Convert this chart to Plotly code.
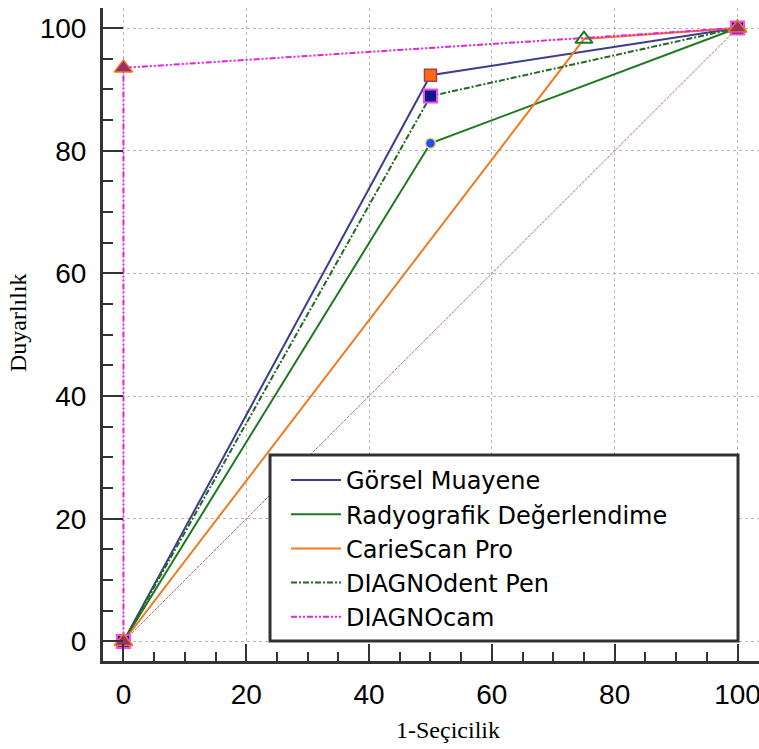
import plotly.graph_objects as go

# ROC data (1-Seçicilik, Duyarlılık)
names = ["Görsel Muayene", "Radyografik Değerlendime", "CarieScan Pro", "DIAGNOdent Pen", "DIAGNOcam"]
fpr_gorsel = [0, 50, 100]
tpr_gorsel = [0, 92.3, 100]
fpr_rad = [0, 50, 100]
tpr_rad = [0, 81.2, 100]
fpr_caries = [0, 75, 100]
tpr_caries = [0, 98.2, 100]
fpr_dpen = [0, 50, 100]
tpr_dpen = [0, 88.9, 100]
fpr_dcam = [0, 0, 100]
tpr_dcam = [0, 93.5, 100]
diag_x = [0, 100]
diag_y = [0, 100]
tick_vals = [0, 20, 40, 60, 80, 100]
x_title = "1-Seçicilik"
y_title = "Duyarlılık"

series = [
    (fpr_gorsel, tpr_gorsel, dict(color="#3d3d8f", width=2, dash="solid"),
     dict(symbol="square", size=12, color="#ff6a10", line=dict(color="#a0405a", width=1.5))),
    (fpr_rad, tpr_rad, dict(color="#1f7a1f", width=2, dash="solid"),
     dict(symbol="circle", size=10, color="#1f4fff", line=dict(color="#f2d46a", width=1.5))),
    (fpr_caries, tpr_caries, dict(color="#f07a22", width=2, dash="solid"),
     dict(symbol="triangle-up-open", size=15, color="#1f7a1f", line=dict(color="#1f7a1f", width=2))),
    (fpr_dpen, tpr_dpen, dict(color="#1f6b1f", width=2, dash="6px,2px,2px,2px"),
     dict(symbol="square", size=13, color="#0a1a80", line=dict(color="#ff44ff", width=2))),
    (fpr_dcam, tpr_dcam, dict(color="#e61ee6", width=2, dash="6px,2px,2px,2px,2px,2px"),
     dict(symbol="triangle-up", size=16, color="#9a2f6a", line=dict(color="#f07a22", width=1.5))),
]

fig = go.Figure()
fig.add_trace(go.Scatter(x=diag_x, y=diag_y, mode="lines",
                         line=dict(color="#b07070", width=1, dash="3px,1px"), showlegend=False, hoverinfo="skip"))
for name, (xs, ys, ln, mk) in zip(names, series):
    fig.add_trace(go.Scatter(x=xs, y=ys, mode="lines", name=name, line=ln))
for name, (xs, ys, ln, mk) in zip(names, series):
    fig.add_trace(go.Scatter(x=xs, y=ys, mode="markers", name=name, marker=mk, showlegend=False))

axis_common = dict(
    tickvals=tick_vals, ticks="inside", tickwidth=2, tickcolor="#333333",
    showline=True, linewidth=3, linecolor="#333333",
    showgrid=True, gridcolor="#b8b8b8", griddash="dot", gridwidth=1,
    zeroline=False, automargin=False, ticklabeloverflow="allow",
    tickfont=dict(family="Liberation Sans, Arial", size=28, color="#000000"),
    minor=dict(ticks="inside", dtick=5, tick0=0, tickwidth=2, tickcolor="#333333", showgrid=False),
)

title_font = dict(family="Liberation Serif, Times New Roman", size=24, color="#000000")

fig.update_layout(
    width=759, height=749,
    margin=dict(l=103, r=0, t=8, b=88),
    paper_bgcolor="white", plot_bgcolor="white",
    xaxis=dict(axis_common, range=[-3.33, 103.5], ticklen=17, ticklabelstandoff=6,
               minor=dict(axis_common["minor"], ticklen=9)),
    yaxis=dict(axis_common, range=[-3.18, 103.26], ticklen=20, ticklabelstandoff=8,
               minor=dict(axis_common["minor"], ticklen=10)),
    legend=dict(x=0.279, y=0.311, xanchor="left", yanchor="top",
                bgcolor="rgba(0,0,0,0)", borderwidth=0, itemwidth=50,
                font=dict(family="DejaVu Sans", size=24, color="#000000")),
    shapes=[dict(type="rect", xref="paper", yref="paper", x0=0.2546, x1=0.968, y0=0.0306, y1=0.3155,
                 line=dict(color="#333333", width=3), fillcolor="white", layer="above")],
    annotations=[
        dict(text=x_title, xref="paper", yref="paper", x=0.526, y=-0.1057,
             xanchor="center", yanchor="middle", showarrow=False, font=title_font),
        dict(text=y_title, xref="paper", yref="paper", x=-0.1296, y=0.519, textangle=-90,
             xanchor="center", yanchor="middle", showarrow=False, font=title_font),
    ],
)

fig.write_html("out.html", config={"displayModeBar": False},
               post_script="document.body.style.margin='0';document.body.style.padding='0';")
